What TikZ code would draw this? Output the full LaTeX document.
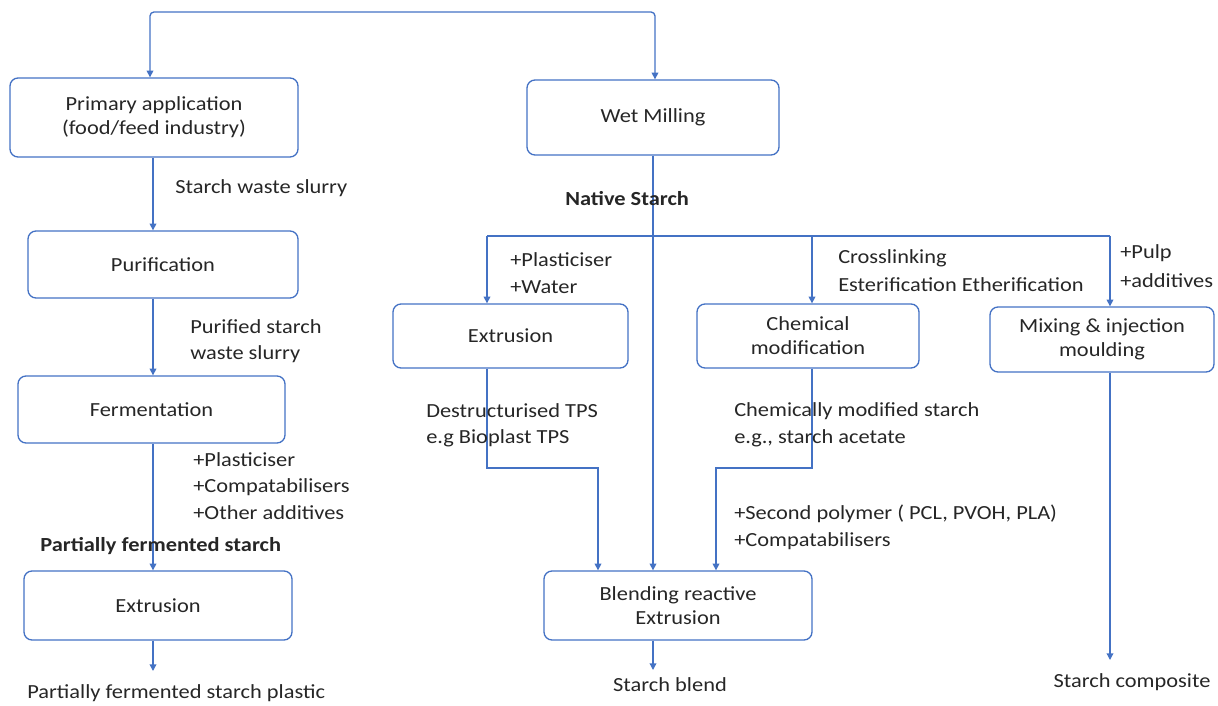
\documentclass[tikz,border=0pt]{standalone}
\usepackage{fontspec}
\setmainfont{Carlito}[FakeStretch=1.12]
\usetikzlibrary{arrows.meta,calc}
\definecolor{lineblue}{RGB}{68,114,196}
\definecolor{txt}{RGB}{38,38,38}
\tikzset{
  box/.style={draw=lineblue, line width=1pt, rounded corners=6pt, align=center, inner sep=0pt, text=txt, font=\fontsize{15}{18}\selectfont},
  lbl/.style={anchor=west, inner sep=0pt, text=txt, font=\fontsize{15}{18}\selectfont},
  blbl/.style={lbl, font=\fontsize{15}{18}\selectfont\bfseries},
  clbl/.style={anchor=center, inner sep=0pt, text=txt, font=\fontsize{15}{18}\selectfont},
  conn/.style={draw=lineblue, line width=1pt},
  arr/.style={conn, -{Triangle[width=5pt,length=5pt]}},
}
\newcommand\boxat[6]{\node[box, minimum width={(#4-#2)*0.75pt}, minimum height={(#5-#3)*0.75pt}] (#1) at ({(#2+#4)/2},{(#3+#5)/2}) {#6};}
\begin{document}
\begin{tikzpicture}[x=0.75pt,y=-0.75pt]
\useasboundingbox (0,0) rectangle (1218,706);
% boxes
\boxat{prim}{10}{78}{298}{157}{Primary application\\(food/feed industry)}
\boxat{wet}{527}{80}{779}{155}{Wet Milling}
\boxat{puri}{28}{231}{298}{298}{Purification}
\boxat{ferm}{18}{376}{285}{443}{Fermentation}
\boxat{extl}{24}{571}{292}{640}{Extrusion}
\boxat{extm}{393}{304}{628}{368}{Extrusion}
\boxat{chem}{697}{304}{919}{368}{Chemical\\modification}
\boxat{mix}{990}{307}{1214}{372}{Mixing \& injection\\moulding}
\boxat{blend}{544}{571}{812}{640}{Blending reactive\\Extrusion}
% coordinates
\coordinate (d1) at (487,236);
\coordinate (d2) at (812,236);
\coordinate (d3) at (1110,236);
\coordinate (b1) at (598,468);
\coordinate (b2) at (716,468);
\coordinate (pend) at (153,671);
\coordinate (bend) at (653,670);
\coordinate (mend) at (1110,660);
% top connector
\draw[arr, {Triangle[width=5pt,length=5pt]}-{Triangle[width=5pt,length=5pt]}, rounded corners=3pt] (prim.north -| 150,0) |- (400,12) -| (wet.north -| 655,0);
% left chain
\draw[arr] (prim.south -| 153,0) -- (puri.north -| 153,0);
\draw[arr] (puri.south -| 153,0) -- (ferm.north -| 153,0);
\draw[arr] (ferm.south -| 153,0) -- (extl.north -| 153,0);
\draw[arr] (extl.south -| 153,0) -- (pend);
% wet milling trunk
\draw[arr] (wet.south -| 653,0) -- (blend.north -| 653,0);
\draw[conn] (d1) -- (d3);
\draw[arr] (d1) -- (extm.north -| d1);
\draw[arr] (d2) -- (chem.north -| d2);
\draw[arr] (d3) -- (mix.north -| d3);
% to blend
\draw[arr] (extm.south -| d1) |- (b1) -- (blend.north -| b1);
\draw[arr] (chem.south -| d2) |- (b2) -- (blend.north -| b2);
\draw[arr] (blend.south -| 653,0) -- (bend);
\draw[arr] (mix.south -| d3) -- (mend);
% labels
\node[lbl] (l1) at (175,188) {Starch waste slurry};
\node[lbl] (l2) at (190,327) {Purified starch};
\node[lbl] (l3) at (190,354) {waste slurry};
\node[lbl] (l4) at (193,460) {+Plasticiser};
\node[lbl] (l5) at (193,487) {+Compatabilisers};
\node[lbl] (l6) at (193,513) {+Other additives};
\node[blbl] (l7) at (40,546) {Partially fermented starch};
\node[lbl] (l8) at (27,693) {Partially fermented starch plastic};
\node[blbl] (l9) at (565,199) {Native Starch};
\node[lbl] (l10) at (510,260) {+Plasticiser};
\node[lbl] (l11) at (510,287) {+Water};
\node[lbl] (l12) at (838,258) {Crosslinking};
\node[lbl] (l13) at (838,285) {Esterification Etherification};
\node[lbl] (l14) at (1120,253) {+Pulp};
\node[lbl] (l15) at (1120,281) {+additives};
\node[lbl] (l16) at (426,411) {Destructurised TPS};
\node[lbl] (l17) at (426,438) {e.g Bioplast TPS};
\node[lbl] (l18) at (734,411) {Chemically modified starch};
\node[lbl] (l19) at (734,438) {e.g., starch acetate};
\node[lbl] (l20) at (734,514) {+Second polymer ( PCL, PVOH, PLA)};
\node[lbl] (l21) at (734,541) {+Compatabilisers};
\node[clbl] (l22) at (670,685) {Starch blend};
\node[clbl] (l23) at (1132,682) {Starch composite};
\end{tikzpicture}
\end{document}
